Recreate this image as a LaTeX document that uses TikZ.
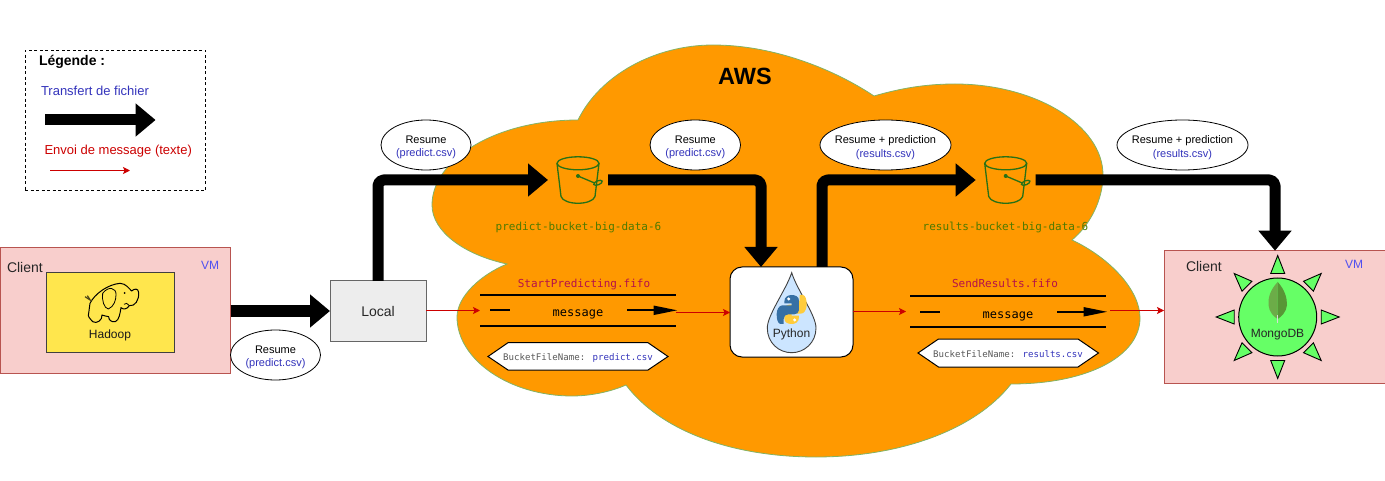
\documentclass[tikz,border=0pt]{standalone}
\usepackage{fontspec}
\setmainfont{Liberation Sans}
\newfontfamily\codefont{DejaVu Sans Mono}
\usetikzlibrary{arrows.meta,shapes.geometric,calc}
\definecolor{awsorange}{HTML}{FF9900}
\definecolor{cloudedge}{HTML}{82B366}
\definecolor{vmfill}{HTML}{F8CECC}
\definecolor{vmedge}{HTML}{B85450}
\definecolor{hadoopy}{HTML}{FFE64D}
\definecolor{blueink}{HTML}{3333BB}
\definecolor{vmblue}{HTML}{5050F0}
\definecolor{redink}{HTML}{CC0000}
\definecolor{bucketgreen}{HTML}{277116}
\definecolor{labelgreen}{HTML}{4D7A00}
\definecolor{fifored}{HTML}{B5104A}
\definecolor{mongogreen}{HTML}{66FF66}
\definecolor{dropblue}{HTML}{CCE5FF}
\definecolor{pyblue}{HTML}{3670A5}
\definecolor{pyyellow}{HTML}{FFCC3C}
\definecolor{leafa}{HTML}{6CAC48}
\definecolor{leafb}{HTML}{589636}
\tikzset{
  txt/.style={inner sep=0pt,outer sep=0pt,align=center},
  fs/.style={font=\fontsize{#1}{12.5}\selectfont},
  box/.style={draw,inner sep=0pt,outer sep=0pt},
  bigarrow/.style={line width=11pt,rounded corners=5.5pt,line join=round,-{Triangle[length=20pt,width=32pt]}},
  msgarrow/.style={draw=redink,line width=1pt,-{Stealth[length=7pt,width=7pt,inset=1.5pt]}},
  note/.style={draw=black,fill=white,ellipse,inner sep=0pt,outer sep=0pt,minimum height=50pt,line width=0.8pt},
  ghost/.style={inner sep=0pt,outer sep=0pt},
  qline/.style={line width=1.8pt},
  bucketline/.style={draw=bucketgreen,line width=1.3pt,fill=none},
  mono/.style={txt,font=\codefont\fontsize{#1}{13}\selectfont},
  hexa/.style={draw=black,fill=white,line width=1pt},
}
\newcommand{\bucketicon}[1]{%
  \begin{scope}[shift={#1}]
    \draw[bucketline] (0,-16.7) ellipse (21 and 6.5);
    \draw[bucketline] (-21,-16.7) -- (-17,16.5) .. controls (-14,25.5) and (14,25.5) .. (17,16.5) -- (21,-16.7);
    \fill[bucketgreen] (0,-4) circle (2);
    \draw[bucketline] (0,-4) -- (17,3.2);
    \draw[bucketline,rotate around={22:(20,2.8)}] (20,2.8) ellipse (4.5 and 2);
  \end{scope}}
\newcommand{\snakepath}{%
  (178,125) .. controls (178,110) and (190,105) .. (200,105)
  .. controls (212,105) and (222,110) .. (222,122) -- (222,150)
  .. controls (222,158) and (215,163) .. (208,163) -- (190,163)
  .. controls (182,163) and (176,168) .. (176,177) -- (176,192)
  -- (166,192) .. controls (158,190) and (155,178) .. (155,162)
  .. controls (155,148) and (163,136) .. (172,136) -- (200,136) -- (200,130) -- (178,130) -- cycle}
\begin{document}
\begin{tikzpicture}[x=1pt,y=-1pt,line join=miter]
\useasboundingbox (0,0) rectangle (1385,481);

% cloud
\path[fill=awsorange,draw=cloudedge,line width=0.8pt]
  (578,120) .. controls (600,75) and (655,45) .. (713,45)
  .. controls (775,45) and (835,70) .. (874,96)
  .. controls (905,87) and (930,84) .. (955,84)
  .. controls (1035,84) and (1103,125) .. (1103,175)
  .. controls (1103,200) and (1090,225) .. (1072,240)
  .. controls (1110,258) and (1140,290) .. (1140,318)
  .. controls (1140,355) and (1090,384) .. (1011,384)
  .. controls (975,430) and (900,457) .. (816,457)
  .. controls (730,457) and (660,430) .. (626,385)
  .. controls (610,392) and (590,396) .. (572,396)
  .. controls (510,396) and (457,360) .. (457,317)
  .. controls (457,297) and (480,275) .. (507,264)
  .. controls (465,255) and (432,232) .. (432,205)
  .. controls (432,160) and (495,120) .. (578,120) -- cycle;
\node[txt,font=\bfseries\fontsize{23.5}{28}\selectfont] (aws) at (745,76.5) {AWS};

% legend
\node[box,dash pattern=on 3pt off 2.5pt,line width=0.9pt,minimum width=180.5pt,minimum height=140.5pt] (legend) at (115.4,120.5) {};
\node[txt,anchor=west,font=\bfseries\fontsize{14}{16}\selectfont] (legtitle) at (39,61.5) {Légende :};
\node[txt,fs=13,anchor=west,text=blueink] (legblue) at (41,90.5) {Transfert de fichier};
\node[txt,fs=13,anchor=west,text=redink] (legred) at (44.5,151) {Envoi de message (texte)};
\coordinate (la1) at (45,120); \coordinate (la2) at (155.6,120);
\draw[bigarrow] (la1) -- (la2);
\coordinate (lb1) at (50,170.5); \coordinate (lb2) at (130,170.5);
\draw[msgarrow] (lb1) -- (lb2);

% client left
\node[box,draw=vmedge,fill=vmfill,line width=1pt,minimum width=230.5pt,minimum height=125pt] (client) at (115.3,310.5) {};
\node[txt,fs=14,anchor=west,text=black!85] (clienttxt) at (7,267) {Client};
\node[txt,fs=12,text=vmblue] (vm1) at (210,265) {VM};
\node[box,draw=black!75,fill=hadoopy,line width=1.2pt,minimum width=128pt,minimum height=80pt] (hadoop) at (110.5,312.5) {};
\node[txt,fs=12,text=black!90] (hadooptxt) at (110,335.5) {Hadoop};
\begin{scope}[shift={(40,265)},x=0.3333pt,y=-0.3333pt]
  \draw[fill=hadoopy,line width=1pt,line join=round]
    (150,115) .. controls (165,85) and (205,58) .. (240,55)
    .. controls (258,55) and (268,72) .. (275,78)
    .. controls (283,70) and (295,70) .. (296,82)
    .. controls (298,105) and (285,125) .. (268,122)
    .. controls (262,132) and (250,135) .. (243,128)
    .. controls (240,145) and (238,165) .. (226,170)
    .. controls (214,172) and (206,165) .. (206,155)
    .. controls (198,154) and (192,152) .. (186,150)
    .. controls (188,165) and (170,178) .. (158,170)
    .. controls (150,160) and (142,155) .. (146,145)
    .. controls (150,135) and (146,125) .. (150,115) -- cycle;
  \draw[fill=hadoopy,line width=0.8pt]
    (188,85) .. controls (205,62) and (230,68) .. (228,90)
    .. controls (228,105) and (222,125) .. (205,132)
    .. controls (192,130) and (185,105) .. (188,85) -- cycle;
  \fill (254,84) circle (3);
  \draw[line width=0.8pt] (268,122) .. controls (262,115) and (258,112) .. (252,118);
  \draw[line width=1.2pt,black!70!hadoopy] (135,95) -- (155,108);
  \draw[line width=1.2pt,black!70!hadoopy] (142,92) -- (150,104);
\end{scope}

% local
\node[box,draw=black!60,fill=black!7,line width=1pt,minimum width=96pt,minimum height=60pt,text=black!85,fs=14] (local) at (378,311) {Local};
\draw[bigarrow] (client.east |- local.west) -- (local.west);

% python
\node[box,draw=black,fill=white,line width=1pt,rounded corners=12pt,minimum width=123pt,minimum height=90pt] (python) at (791.5,312) {};
\path[draw=black!75,fill=dropblue,line width=0.9pt] (791.7,272.7)
   .. controls (786,290) and (767.3,315) .. (767.3,328)
   .. controls (767.3,343) and (779,352.7) .. (791.7,352.7)
   .. controls (804,352.7) and (816,343) .. (816,328)
   .. controls (816,315) and (797,290) .. (791.7,272.7) -- cycle;
\begin{scope}[shift={(725,260)},x=0.3333pt,y=-0.3333pt]
  \fill[pyyellow,rotate around={180:(200,148.5)}] \snakepath;
  \fill[pyblue] \snakepath;
  \fill[white] (191,117) circle (5);
  \fill[white] (209,180) circle (5);
\end{scope}
\node[txt,fs=12,text=black!85] (pytxt) at (791.5,334.5) {Python};

% buckets
\node[ghost,minimum width=60pt,minimum height=47pt] (b1) at (578,180) {};
\node[ghost,minimum width=60pt,minimum height=47pt] (b2) at (1005.7,180) {};
\bucketicon{(b1.center)}
\bucketicon{(b2.center)}
\node[mono=11,text=labelgreen] (b1txt) at (578.5,227.5) {predict-bucket-big-data-6};
\node[mono=11,text=labelgreen] (b2txt) at (1005.5,227.5) {results-bucket-big-data-6};

% right VM
\node[box,draw=vmedge,fill=vmfill,line width=1pt,minimum width=221pt,minimum height=132pt] (vmright) at (1274.5,317) {};
\node[txt,fs=14,anchor=west,text=black!85] (client2) at (1186,266) {Client};
\node[txt,fs=12,text=vmblue] (vm2) at (1354,264) {VM};
\node[draw=black,fill=mongogreen,circle,line width=1pt,minimum size=78pt,inner sep=0pt] (mongo) at (1277.7,317) {};
\foreach \a in {0,45,...,315}{
  \draw[draw=black,fill=mongogreen,line width=0.9pt,line join=miter]
    ($(mongo.center)+(\a:61.5)$) -- ($(mongo.center)+(\a:43.5)+(\a+90:7)$) -- ($(mongo.center)+(\a:43.5)+(\a-90:7)$) -- cycle;
}
\fill[leafa] (1277.7,282) .. controls (1270,290) and (1268,298) .. (1268.5,305) .. controls (1269,312) and (1274,317) .. (1277.7,319) -- cycle;
\fill[leafb] (1277.7,282) .. controls (1285,290) and (1287,298) .. (1287,305) .. controls (1286.5,312) and (1281,317) .. (1277.7,319) -- cycle;
\draw[black!15,line width=1pt] (1277.7,315) -- (1277.7,323);
\node[txt,fs=12,text=black!85] (mongotxt) at (1277.5,334.5) {MongoDB};

% queues
\node[ghost,minimum width=196pt,minimum height=31pt] (q1) at (578,310.3) {};
\node[ghost,minimum width=196pt,minimum height=31pt] (q2) at (1008,311.8) {};
\foreach \q in {q1,q2}{
  \draw[qline] (\q.north west) -- (\q.north east);
  \draw[qline] (\q.south west) -- (\q.south east);
  \draw[qline] ($(\q.west)+(10,0)$) -- ($(\q.west)+(30,0)$);
  \draw[qline,-{Stealth[length=24pt,width=9pt,inset=0pt]}] ($(\q.east)+(-49,0)$) -- ($(\q.east)+(1.5,0)$);
}
\node[mono=12] (m1) at (578,314.5) {message};
\node[mono=12] (m2) at (1008,316) {message};
\node[mono=11,text=fifored] (t1) at (584,284.5) {StartPredicting.fifo};
\node[mono=11,text=fifored] (t2) at (1005,283.5) {SendResults.fifo};

% hex labels
\path[hexa] (488,356.5) -- (508,342.7) -- (648,342.7) -- (668,356.5) -- (648,370) -- (508,370) -- cycle;
\path[hexa] (918,353) -- (938.5,339) -- (1078,339) -- (1098.5,353) -- (1078,367) -- (938.5,367) -- cycle;
\node[mono=9.1,text=black!65] (h1) at (578,357.5) {BucketFileName: \textcolor{blueink}{predict.csv}};
\node[mono=9.1,text=black!65] (h2) at (1008,354) {BucketFileName: \textcolor{blueink}{results.csv}};

% thick connectors
\coordinate (pyin) at (761,267);
\coordinate (pyout) at (822,267);
\coordinate (mgin) at (1275,250.7);
\draw[bigarrow] (local.north) |- (b1.west);
\draw[bigarrow] (b1.east) -| (pyin);
\draw[bigarrow] (pyout) |- (b2.west);
\draw[bigarrow] (b2.east) -| (mgin);

% message connectors
\coordinate (py2q) at (853,311.5);
\coordinate (q1in) at (480,310.5);
\coordinate (q1out) at (676,312.5);
\draw[msgarrow] (local.east |- q1in) -- (q1in);
\draw[msgarrow] (q1out) -- (q1out -| python.west);
\draw[msgarrow,shorten >=4pt] (py2q) -- (q2.west |- py2q);
\coordinate (q2out) at (1110,310.5);
\draw[msgarrow] (q2out) -- (q2out -| vmright.west);

% notes
\node[note,minimum width=90pt] (n1) at (426,145) {};
\node[txt,fs=11] at (426,147.5) {Resume\\[1pt]\textcolor{blueink}{(predict.csv)}};
\node[note,minimum width=90.5pt] (n2) at (695.3,145) {};
\node[txt,fs=11] at (695.3,147.5) {Resume\\[1pt]\textcolor{blueink}{(predict.csv)}};
\node[note,minimum width=131pt] (n3) at (885.5,145) {};
\node[txt,fs=11] at (885.5,147.5) {Resume + prediction\\[1pt]\textcolor{blueink}{(results.csv)}};
\node[note,minimum width=131pt] (n4) at (1182.5,145) {};
\node[txt,fs=11] at (1182.5,147.5) {Resume + prediction\\[1pt]\textcolor{blueink}{(results.csv)}};
\node[note,minimum width=90pt] (n5) at (275.5,355) {};
\node[txt,fs=11] at (275.5,357.5) {Resume\\[1pt]\textcolor{blueink}{(predict.csv)}};
\end{tikzpicture}
\end{document}
